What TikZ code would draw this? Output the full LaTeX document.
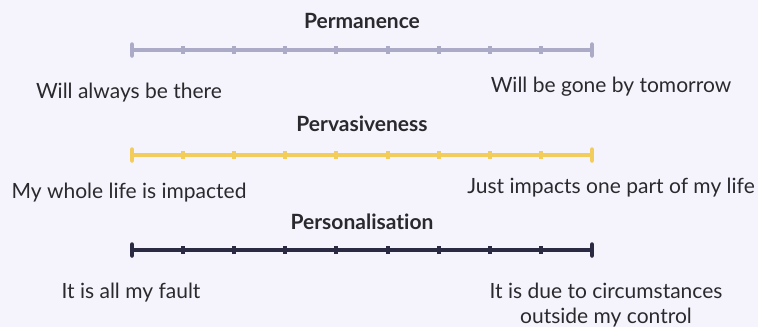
\documentclass[tikz,border=0pt]{standalone}
\usepackage{fontspec}
\setmainfont[Ligatures={NoCommon}]{Lato}
\usetikzlibrary{calc}
\definecolor{bg}{HTML}{F5F4FD}
\definecolor{textdark}{HTML}{2A2A2E}
\definecolor{cgray}{HTML}{ABABC7}
\definecolor{cyellow}{HTML}{F2CD5B}
\definecolor{cnavy}{HTML}{2A2A42}
% one scale: #1 colour, #2 line y, #3 name prefix
\newcommand{\scaleline}[3]{%
  \coordinate (#3L) at (132,#2);
  \coordinate (#3R) at (592,#2);
  \draw[bar,#1] (#3L) -- (#3R);
  \draw[endtick,#1] ([yshift=-5.5]#3L) -- ([yshift=5.5]#3L);
  \draw[endtick,#1] ([yshift=-5.5]#3R) -- ([yshift=5.5]#3R);
  \foreach \i in {1,...,8} {
    \coordinate (#3t\i) at ($(#3L)!\i/9!(#3R)$);
    \draw[midtick,#1] ([yshift=-4]#3t\i) -- ([yshift=4]#3t\i);
  }%
}
\begin{document}
\begin{tikzpicture}[x=1pt,y=-1pt,
  lbl/.style={font=\fontsize{21}{25}\selectfont, text=textdark, align=center, inner sep=0pt, anchor=base},
  ttl/.style={font=\bfseries\fontsize{21}{25}\selectfont, text=textdark, inner sep=0pt, anchor=base},
  bar/.style={line width=4.5pt},
  endtick/.style={line width=4.5pt, line cap=round},
  midtick/.style={line width=4pt}]
\fill[bg] (0,0) rectangle (758,327);
\useasboundingbox (0,0) rectangle (758,327);

\scaleline{cgray}{50}{a}
\scaleline{cyellow}{155}{b}
\scaleline{cnavy}{250}{c}

\node[ttl] (t1) at (362,28) {Permanence};
\node[ttl] (t2) at (362,131) {Pervasiveness};
\node[ttl] (t3) at (362,229) {Personalisation};

\node[lbl] (a1) at (129,98) {Will always be there};
\node[lbl] (a2) at (611,92) {Will be gone by tomorrow};
\node[lbl] (b1) at (129,198.5) {My whole life is impacted};
\node[lbl] (b2) at (611,193) {Just impacts one part of my life};
\node[lbl] (c1) at (131,298) {It is all my fault};
\node[lbl] (c2) at (606,298) {It is due to circumstances};
\node[lbl] (c2b) at (606,323) {outside my control};
\end{tikzpicture}
\end{document}
